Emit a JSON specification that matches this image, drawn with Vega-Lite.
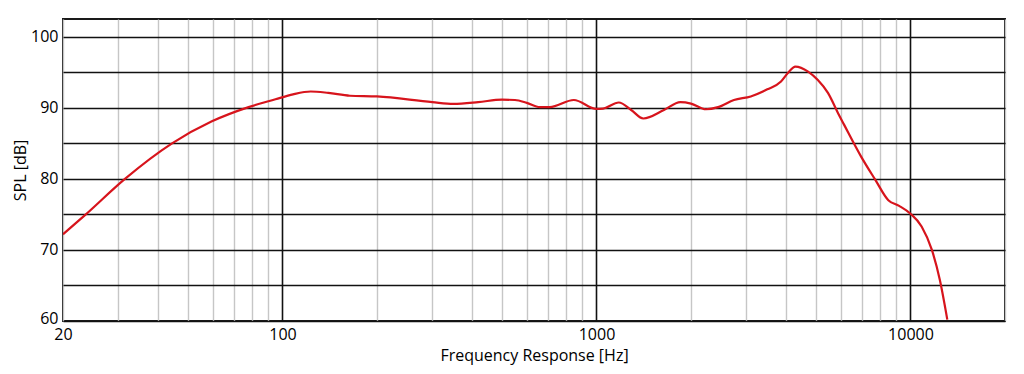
{
  "$schema": "https://vega.github.io/schema/vega-lite/v6.json",
  "width": 942,
  "height": 302,
  "autosize": {"type": "none"},
  "padding": {"left": 63, "top": 19, "right": 19, "bottom": 53},
  "background": "white",
  "config": {
    "view": {"stroke": "#1a1a1a", "strokeWidth": 2},
    "font": "Open Sans",
    "axis": {"labelFont": "Open Sans", "titleFont": "Open Sans", "labelColor": "#000", "titleColor": "#000", "titleFontWeight": "normal"}
  },
  "data": {"values": [
    {"f": 20, "spl": 72.2},
    {"f": 23.5, "spl": 74.9},
    {"f": 31.5, "spl": 80.0},
    {"f": 44.5, "spl": 85.0},
    {"f": 59.6, "spl": 88.1},
    {"f": 78, "spl": 90.1},
    {"f": 95, "spl": 91.2},
    {"f": 108, "spl": 91.9},
    {"f": 123, "spl": 92.3},
    {"f": 140, "spl": 92.1},
    {"f": 164, "spl": 91.7},
    {"f": 200, "spl": 91.6},
    {"f": 300, "spl": 90.8},
    {"f": 350, "spl": 90.56},
    {"f": 420, "spl": 90.8},
    {"f": 500, "spl": 91.15},
    {"f": 550, "spl": 91.1},
    {"f": 600, "spl": 90.7},
    {"f": 660, "spl": 90.1},
    {"f": 710, "spl": 90.1},
    {"f": 847, "spl": 91.1},
    {"f": 1000, "spl": 89.85},
    {"f": 1050, "spl": 89.9},
    {"f": 1178, "spl": 90.75},
    {"f": 1290, "spl": 89.7},
    {"f": 1410, "spl": 88.5},
    {"f": 1640, "spl": 89.7},
    {"f": 1850, "spl": 90.8},
    {"f": 2000, "spl": 90.6},
    {"f": 2230, "spl": 89.8},
    {"f": 2440, "spl": 90.1},
    {"f": 2740, "spl": 91.1},
    {"f": 3100, "spl": 91.6},
    {"f": 3500, "spl": 92.6},
    {"f": 3870, "spl": 93.7},
    {"f": 4070, "spl": 94.9},
    {"f": 4300, "spl": 95.8},
    {"f": 4720, "spl": 95.1},
    {"f": 5070, "spl": 93.9},
    {"f": 5460, "spl": 92.1},
    {"f": 5880, "spl": 89.25},
    {"f": 6150, "spl": 87.6},
    {"f": 6970, "spl": 83.1},
    {"f": 7720, "spl": 79.9},
    {"f": 8500, "spl": 77.0},
    {"f": 9200, "spl": 76.2},
    {"f": 10000, "spl": 75.1},
    {"f": 10850, "spl": 73.3},
    {"f": 11700, "spl": 70.0},
    {"f": 12400, "spl": 65.8},
    {"f": 13100, "spl": 60.2}
  ]},
  "mark": {"type": "line", "color": "#d7141c", "strokeWidth": 2.2, "interpolate": "monotone", "clip": true},
  "encoding": {
    "x": {
      "field": "f", "type": "quantitative",
      "scale": {"type": "log", "domain": [20, 20000], "nice": false},
      "axis": {
        "title": "Frequency Response [Hz]",
        "titleFontSize": 16,
        "titlePadding": 5,
        "values": [20,30,40,50,60,70,80,90,100,200,300,400,500,600,700,800,900,1000,2000,3000,4000,5000,6000,7000,8000,9000,10000,20000],
        "format": "d",
        "labelExpr": "indexof([20,100,1000,10000], datum.value) >= 0 ? datum.label : ''",
        "labelFontSize": 16,
        "labelPadding": 5,
        "labelFlush": false,
        "labelOverlap": false,
        "ticks": false,
        "domain": false,
        "grid": true,
        "gridColor": {"condition": {"test": "indexof([100,1000,10000], datum.value) >= 0", "value": "#111111"}, "value": "#c6c6c6"},
        "gridWidth": {"condition": {"test": "indexof([100,1000,10000], datum.value) >= 0", "value": 1.6}, "value": 1.4},
        "gridOpacity": 1
      }
    },
    "y": {
      "field": "spl", "type": "quantitative",
      "scale": {"domain": [60, 102.5], "nice": false, "zero": false},
      "axis": {
        "title": "SPL [dB]",
        "titleFontSize": 16,
        "titlePadding": 2,
        "values": [60,65,70,75,80,85,90,95,100],
        "labelExpr": "datum.value % 10 == 0 ? datum.label : ''",
        "labelFontSize": 16,
        "labelPadding": 5,
        "labelOffset": {"condition": {"test": "datum.value == 60", "value": -3}, "value": 0},
        "labelFlush": false,
        "labelOverlap": false,
        "ticks": false,
        "domain": false,
        "grid": true,
        "gridColor": "#111111",
        "gridWidth": 1.6,
        "gridOpacity": 1
      }
    }
  }
}
